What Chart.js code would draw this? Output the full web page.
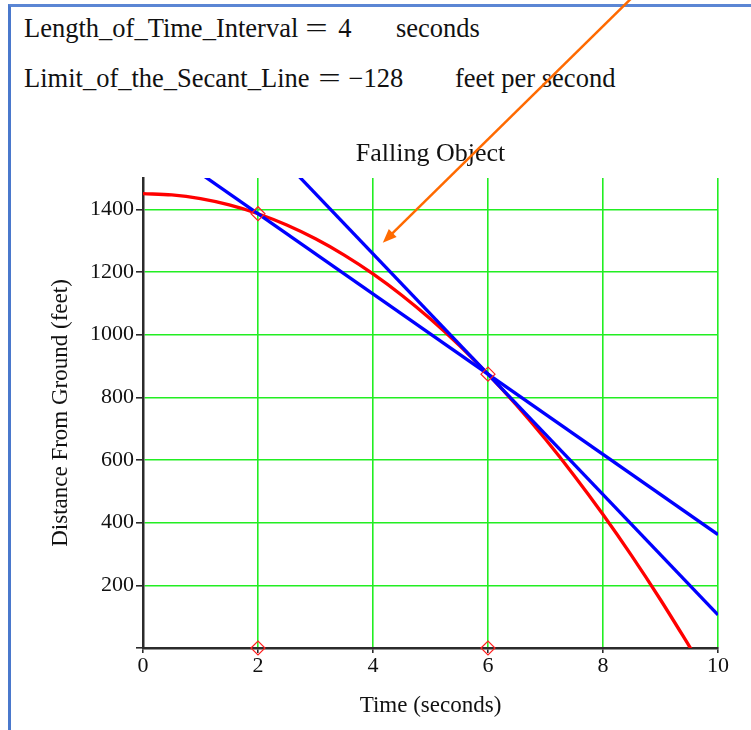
<!DOCTYPE html>
<html>
<head>
<meta charset="utf-8">
<script src="https://cdn.jsdelivr.net/npm/chart.js@4.4.1/dist/chart.umd.min.js"></script>
<style>
  html, body { margin: 0; padding: 0; background: #fff; }
  body { width: 751px; height: 730px; position: relative; overflow: hidden; }
  .frame { position: absolute; left: 8px; top: 4px; right: -10px; bottom: -10px;
           border-left: 3px solid #4a78cc; border-top: 3px solid #5b86d4; }
  .line { position: absolute; font-family: "Liberation Serif", "Times New Roman", serif;
          font-size: 26.5px; line-height: 30px; color: #111; white-space: nowrap; }
  .eq { display: inline-block; transform: scaleX(1.5); }
  #chartBox { position: absolute; left: 0; top: 0; width: 751px; height: 730px; }
</style>
</head>
<body>
<div class="frame"></div>
<div class="line" style="left:24px; top:13px;">Length_of_Time_Interval<span class="eq" style="margin:0 14px 0 11px;">=</span>4</div>
<div class="line" style="left:396px; top:13px;">seconds</div>
<div class="line" style="left:24px; top:63px;">Limit_of_the_Secant_Line<span class="eq" style="margin:0 12px 0 12px;">=</span>&minus;128</div>
<div class="line" style="left:455px; top:63px;">feet per second</div>
<div id="chartBox"><canvas id="fallChart" width="751" height="730"></canvas></div>
<script>
// height of the object (feet)
const curveTimes   = [0, 0.5, 1, 1.5, 2, 2.5, 3, 3.5, 4, 4.5, 5, 5.5, 6, 6.5, 7, 7.5, 8, 8.5, 9, 9.5, 9.56];
const curveHeights = [1450, 1446, 1434, 1414, 1386, 1350, 1306, 1254, 1194, 1126, 1050, 966, 874, 774, 666, 550, 426, 294, 154, 6, -12];

// secant line through t=2 and t=6, and tangent at t=6
const secantTimes    = [0, 10];
const secantHeights  = [1642, 362];
const tangentTimes   = [0, 10];
const tangentHeights = [2026, 106];

// red diamonds
const markerTimes   = [2, 6, 2, 6];
const markerHeights = [1386, 874, 0, 0];

// orange pointer arrow (tail, tip) in data units
const arrowTimes   = [8.64, 4.17];
const arrowHeights = [2100, 1293];

const xTickValues = [0, 2, 4, 6, 8, 10];
const yTickValues = [0, 200, 400, 600, 800, 1000, 1200, 1400];

const pts = (xs, ys) => xs.map((x, i) => ({ x: x, y: ys[i] }));

const SERIF = "'Liberation Serif', 'Times New Roman', serif";
const GREEN = "#22ee22";
const DARK = "#2b2b2b";

const arrowPlugin = {
  id: "arrow",
  afterDraw(chart) {
    const xs = chart.scales.x, ys = chart.scales.y;
    const x1 = xs.getPixelForValue(arrowTimes[0]), y1 = ys.getPixelForValue(arrowHeights[0]);
    const x2 = xs.getPixelForValue(arrowTimes[1]), y2 = ys.getPixelForValue(arrowHeights[1]);
    const ctx = chart.ctx;
    const ang = Math.atan2(y2 - y1, x2 - x1);
    const head = 15;
    ctx.save();
    ctx.strokeStyle = "#ff6a00";
    ctx.fillStyle = "#ff6a00";
    ctx.lineWidth = 2.5;
    ctx.beginPath();
    ctx.moveTo(x1, y1);
    ctx.lineTo(x2 - Math.cos(ang) * head * 0.8, y2 - Math.sin(ang) * head * 0.8);
    ctx.stroke();
    ctx.beginPath();
    ctx.moveTo(x2, y2);
    ctx.lineTo(x2 - head * Math.cos(ang - 0.38), y2 - head * Math.sin(ang - 0.38));
    ctx.lineTo(x2 - head * Math.cos(ang + 0.38), y2 - head * Math.sin(ang + 0.38));
    ctx.closePath();
    ctx.fill();
    ctx.restore();
  }
};

new Chart(document.getElementById("fallChart"), {
  type: "scatter",
  data: {
    datasets: [
      {
        data: pts(markerTimes, markerHeights),
        pointStyle: "rectRot",
        pointRadius: 7,
        pointBorderColor: "#ff2020",
        pointBorderWidth: 1.2,
        pointBackgroundColor: "rgba(0,0,0,0)",
        showLine: false,
        clip: false,
        order: 0
      },
      {
        data: pts(secantTimes, secantHeights),
        showLine: true, borderColor: "#0000ff", borderWidth: 3.3, pointRadius: 0,
        order: 1
      },
      {
        data: pts(tangentTimes, tangentHeights),
        showLine: true, borderColor: "#0000ff", borderWidth: 3.3, pointRadius: 0,
        order: 1
      },
      {
        data: pts(curveTimes, curveHeights),
        showLine: true, borderColor: "#ff0000", borderWidth: 3.3, pointRadius: 0,
        cubicInterpolationMode: "monotone",
        order: 2
      }
    ]
  },
  options: {
    responsive: false,
    animation: false,
    layout: { padding: { left: 47, right: 33, top: 139, bottom: 8 } },
    plugins: { legend: { display: false }, tooltip: { enabled: false } },
    scales: {
      x: {
        type: "linear", min: 0, max: 10,
        afterBuildTicks: (s) => { s.ticks = xTickValues.map(v => ({ value: v })); },
        afterFit: (s) => { s.height = 74; },
        grid: { color: GREEN, lineWidth: 1.6, tickColor: DARK, tickLength: 5 },
        border: { color: DARK, width: 2.5 },
        ticks: { color: "#111", font: { family: SERIF, size: 22 }, padding: 0, maxRotation: 0 },
        title: { display: true, text: "Time (seconds)", color: "#111",
                 font: { family: SERIF, size: 23 }, padding: { top: 0, bottom: 2 } }
      },
      top: {
        type: "linear", position: "top", min: 0, max: 10,
        afterFit: (s) => { s.height = 39; },
        grid: { display: false, drawTicks: false },
        border: { display: false },
        ticks: { display: false },
        title: { display: true, text: "Falling Object", color: "#111",
                 font: { family: SERIF, size: 26 }, padding: { top: 0, bottom: 0 } }
      },
      y: {
        type: "linear", min: 0, max: 1500,
        afterBuildTicks: (s) => { s.ticks = yTickValues.map(v => ({ value: v })); },
        afterFit: (s) => { s.width = 96; },
        grid: { color: GREEN, lineWidth: 1.6, tickColor: DARK, tickLength: 7 },
        border: { color: DARK, width: 2.5 },
        ticks: { color: "#111", font: { family: SERIF, size: 22 }, padding: 2,
                 callback: (v) => v === 0 ? "" : v },
        title: { display: true, text: "Distance From Ground (feet)", color: "#111",
                 font: { family: SERIF, size: 23 }, padding: { top: 0, bottom: 0 } }
      }
    }
  },
  plugins: [arrowPlugin]
});
</script>
</body>
</html>
